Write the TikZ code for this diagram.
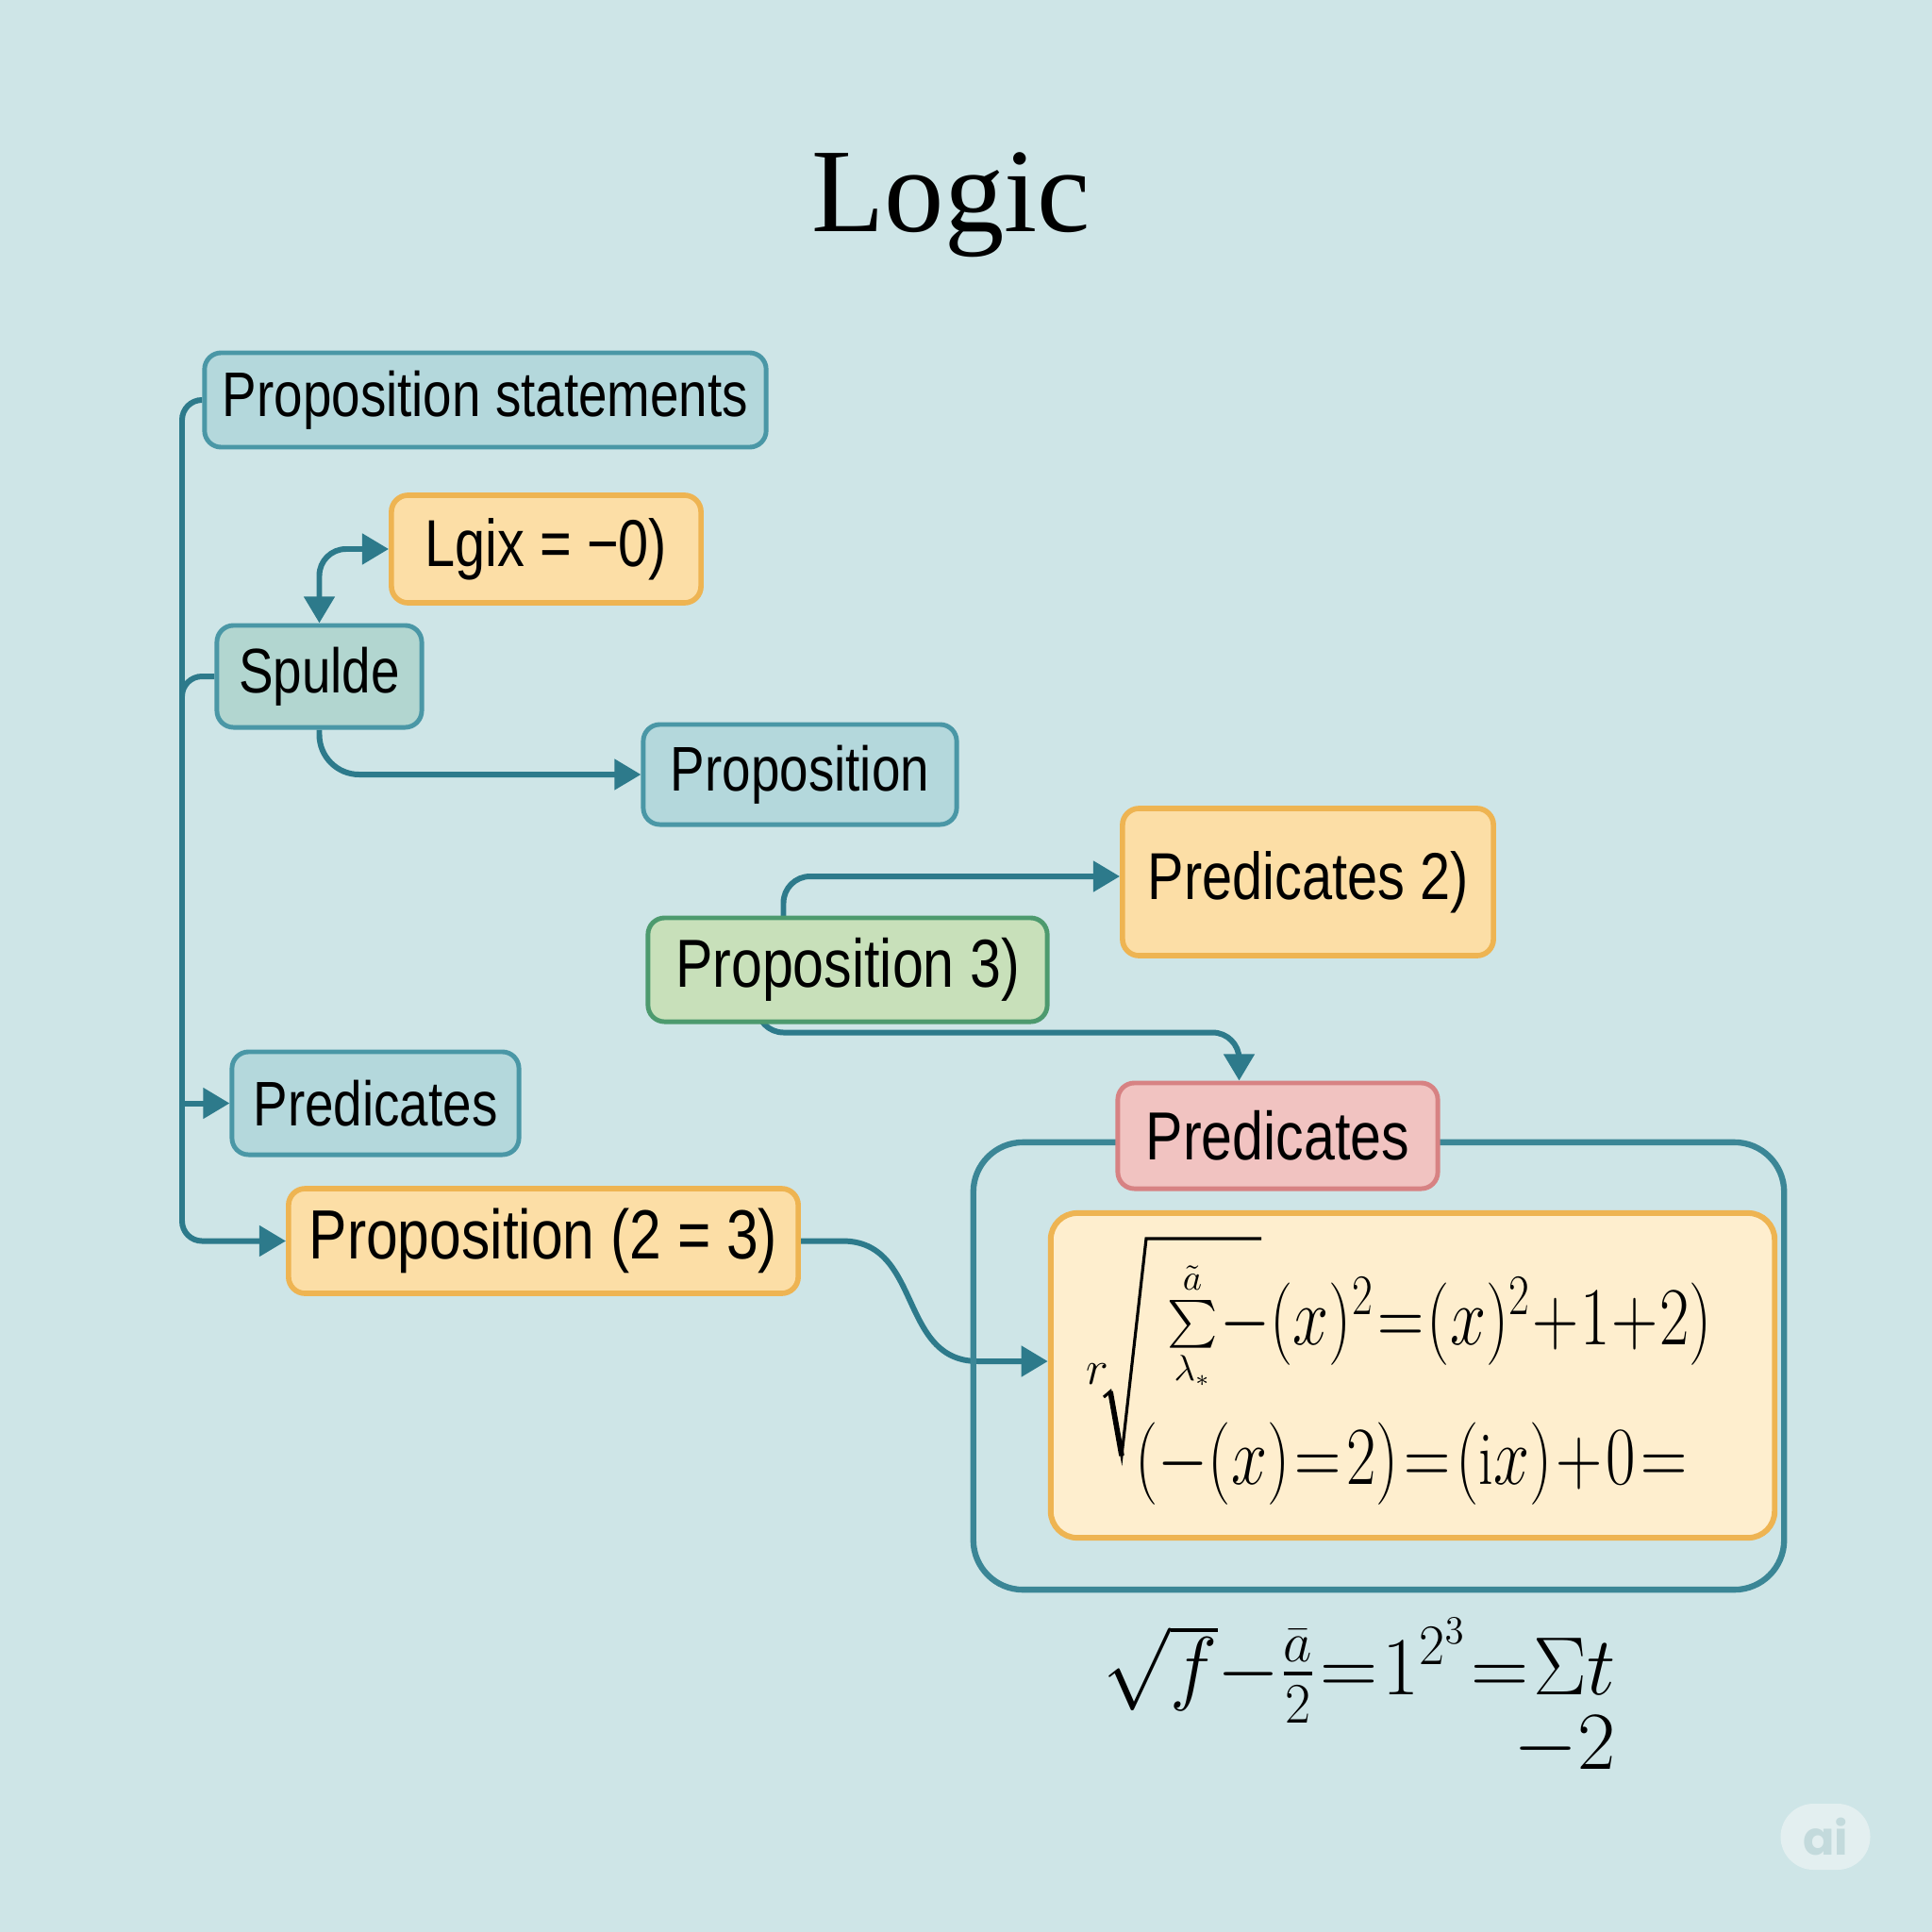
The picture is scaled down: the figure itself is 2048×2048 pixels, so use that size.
\documentclass[tikz,border=0pt]{standalone}
\usepackage{amsmath}
\usepackage{fontspec}
\usepackage{graphicx}
\setsansfont[FakeStretch=0.82]{Liberation Sans}
\newfontfamily\titlefont{Liberation Serif}
\newfontfamily\wmfont{Poppins}
\usetikzlibrary{arrows.meta,calc}
\newcommand{\myfs}[1]{\fontsize{#1}{#1}\selectfont}
\definecolor{bgC}{HTML}{CEE5E7}
\definecolor{blueF}{HTML}{B4D8DC}
\definecolor{blueB}{HTML}{4A97A6}
\definecolor{spF}{HTML}{B2D6D0}
\definecolor{orF}{HTML}{FCDEA6}
\definecolor{orB}{HTML}{EEB452}
\definecolor{grF}{HTML}{C8E0BA}
\definecolor{grB}{HTML}{4D9A6E}
\definecolor{rdF}{HTML}{F1C3C1}
\definecolor{rdB}{HTML}{D78283}
\definecolor{mbF}{HTML}{FEEECE}
\definecolor{connC}{HTML}{2D7A8B}
\definecolor{contC}{HTML}{3B8696}
\definecolor{wmF}{HTML}{E3EFF0}
\definecolor{wmT}{HTML}{C3DADC}
\pgfdeclarelayer{background}
\pgfdeclarelayer{behind}
\pgfsetlayers{background,behind,main}
\begin{document}
\begin{tikzpicture}[x=0.01cm,y=-0.01cm,
  every node/.style={inner sep=0pt},
  box/.style={draw, rounded corners=5pt, line width=1.4pt, font=\sffamily, text=black},
  bluebox/.style={box, fill=blueF, draw=blueB},
  spbox/.style={box, fill=spF, draw=blueB},
  orbox/.style={box, fill=orF, draw=orB, line width=1.6pt},
  grbox/.style={box, fill=grF, draw=grB},
  rdbox/.style={box, fill=rdF, draw=rdB},
  conn/.style={draw=connC, line width=1.7pt},
  arr/.style={-{Triangle[length=8pt,width=9pt]}},
  darr/.style={{Triangle[length=8pt,width=9pt]}-{Triangle[length=8pt,width=9pt]}}
]
\begin{pgfonlayer}{background}
\fill[bgC] (0,0) rectangle (2048,2048);
\end{pgfonlayer}
\useasboundingbox (0,0) rectangle (2048,2048);

% title
\node[anchor=base, font=\titlefont\myfs{36}] (title) at (1008,245) {Logic};

% container and math box
\node[draw=contC, line width=1.8pt, rounded corners=15pt, minimum width=8.59cm, minimum height=4.74cm] (cont) at (1461.5,1448) {};
\node[draw=orB, fill=mbF, line width=1.7pt, rounded corners=8pt, minimum width=7.67cm, minimum height=3.44cm] (MB) at (1497.5,1458) {};

% nodes
\node[bluebox, minimum width=5.95cm, minimum height=1.00cm, font=\sffamily\myfs{19}] (PS) at (514.5,424) {Proposition statements};
\node[orbox, minimum width=3.28cm, minimum height=1.14cm, font=\sffamily\myfs{20}] (Lg) at (579,582) {Lgix = −0)};
\node[spbox, minimum width=2.17cm, minimum height=1.08cm, font=\sffamily\myfs{19}] (Sp) at (338.5,717) {Spulde};
\node[bluebox, minimum width=3.32cm, minimum height=1.06cm, font=\sffamily\myfs{19}] (Pr) at (848,821) {Proposition};
\node[orbox, minimum width=3.93cm, minimum height=1.56cm, font=\sffamily\myfs{20}] (P2) at (1386.5,935) {Predicates 2)};
\node[grbox, minimum width=4.23cm, minimum height=1.10cm, font=\sffamily\myfs{20.5}] (P3) at (898.5,1028) {Proposition 3)};
\node[bluebox, minimum width=3.04cm, minimum height=1.09cm, font=\sffamily\myfs{19}] (PL) at (398,1169.5) {Predicates};
\node[orbox, minimum width=5.40cm, minimum height=1.11cm, font=\sffamily\myfs{21}] (P23) at (576,1315.5) {Proposition (2 = 3)};
\node[rdbox, minimum width=3.39cm, minimum height=1.12cm, font=\sffamily\myfs{20.5}] (PR) at (1354.5,1204) {Predicates};

% math in the box
\draw[line width=0.9pt, line join=miter] (1170,1481) -- (1177,1475) -- (1189,1543) -- (1215,1313) -- (1337,1313);
\draw[line width=1.6pt, line cap=butt] (1177,1475) -- (1189,1543);
\node[font=\myfs{14}] (idx) at (1163,1457) {$r$};
\node[anchor=base, font=\myfs{15}] (sum) at (1264,1416) {$\sum\limits_{\lambda_{\ast}}^{\tilde{a}}$};
\node[anchor=base west, font=\myfs{23}] (l1) at (1293,1425) {\scalebox{0.78}[1]{$\thickmuskip=1mu \medmuskip=0.5mu -(x)^2=(x)^2+1+2)$}};
\node[anchor=base west, font=\myfs{23}] (l2) at (1203,1573) {\scalebox{0.78}[1]{$\thickmuskip=1.5mu \medmuskip=1mu (-(x)=2)=(\mathrm{i}x)+0=$}};

% bottom formula
\node[anchor=base east, font=\myfs{24}] (bf) at (1713,1796) {\scalebox{0.97}[1]{$\thickmuskip=1mu \medmuskip=0mu \sqrt{f}-\frac{\bar{a}}{2}=1^{2^3}=\Sigma t$}};
\node[anchor=base east, font=\myfs{24}] (bf2) at (1713,1875) {$-2$};

% watermark
\node[fill=wmF, text=wmT, rounded corners=0.35cm, minimum width=0.95cm, minimum height=0.70cm, font=\wmfont\bfseries\myfs{14}] (wm) at (1935,1947) {ai};

% connectors
\begin{pgfonlayer}{behind}
\coordinate (trunk) at (193,424);
\draw[conn, rounded corners=6pt, arr] (PS.west) -- (trunk) |- (P23.west);
\draw[conn, rounded corners=6pt] (Sp.west) -| ($(trunk|-Sp.west)+(0,45)$);
\draw[conn, arr] (trunk|-PL.west) -- (PL.west);
\draw[conn, rounded corners=8pt, darr] (Sp.north) |- (Lg.west);
\draw[conn, rounded corners=12pt, arr] (Sp.south) |- (Pr.west);
\draw[conn, rounded corners=8pt, arr] ($(P3.north)+(-68,20)$) |- ($(P2.west)+(0,-6)$);
\draw[conn, rounded corners=8pt, arr] ($(P3.south)+(-96,-20)$) |- ($(PR.north)+(-41,-51)$) -- ($(PR.north)+(-41,0)$);
\draw[conn, arr] (P23.east) -- ++(44,0) .. controls +(85,0) and +(-85,0) .. ($(MB.west)+(-74,-15)$) -- ($(MB.west)+(0,-15)$);
\end{pgfonlayer}
\end{tikzpicture}
\end{document}
